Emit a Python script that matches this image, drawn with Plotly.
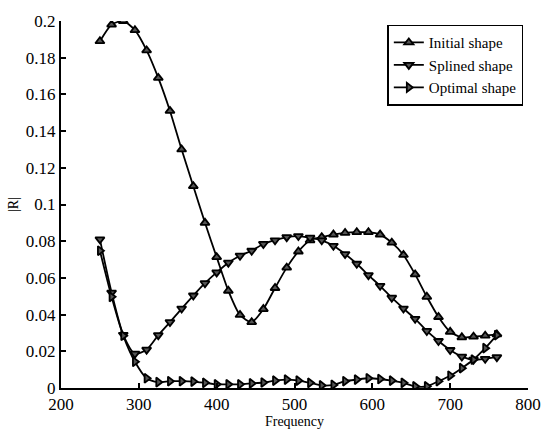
import plotly.graph_objects as go

freq = [250 + 15 * i for i in range(35)]

initial = [0.189, 0.198, 0.200, 0.195, 0.184, 0.169, 0.151, 0.130, 0.110, 0.090,
           0.0713, 0.053, 0.0398, 0.0359, 0.043, 0.0545, 0.0656, 0.0744, 0.0805, 0.0822,
           0.0836, 0.0845, 0.0849, 0.0849, 0.0836, 0.0792, 0.0725, 0.0619, 0.0497, 0.0387,
           0.0306, 0.0276, 0.028, 0.0285, 0.0292]

splined = [0.081, 0.052, 0.029, 0.0187, 0.0209, 0.0288, 0.0359, 0.0433, 0.0504, 0.0571,
           0.063, 0.0683, 0.0721, 0.0748, 0.0785, 0.0805, 0.0822, 0.0828, 0.0819, 0.0805,
           0.0775, 0.073, 0.0677, 0.0615, 0.0557, 0.0492, 0.0433, 0.0377, 0.0311, 0.0256,
           0.0207, 0.0171, 0.0154, 0.0159, 0.0168]

optimal = [0.0748, 0.0497, 0.0285, 0.0143, 0.0053, 0.0032, 0.0037, 0.0037, 0.0035, 0.0028,
           0.002, 0.002, 0.002, 0.0025, 0.003, 0.004, 0.0046, 0.004, 0.0028, 0.0014,
           0.0017, 0.0037, 0.0046, 0.0053, 0.0049, 0.004, 0.0028, 0.0009, 0.0009, 0.0037,
           0.0067, 0.0108, 0.0155, 0.0217, 0.0288]

series_names = ["Initial shape", "Splined shape", "Optimal shape"]
series_symbols = ["triangle-up", "triangle-down", "triangle-right"]

x_ticks = [200, 300, 400, 500, 600, 700, 800]
y_ticks = [0, 0.02, 0.04, 0.06, 0.08, 0.1, 0.12, 0.14, 0.16, 0.18, 0.2]
y_ticktext = ["0", "0.02", "0.04", "0.06", "0.08", "0.1", "0.12", "0.14", "0.16", "0.18", "0.2"]

fig = go.Figure()
for name, ys, sym in zip(series_names, [initial, splined, optimal], series_symbols):
    fig.add_trace(go.Scatter(
        x=freq, y=ys, name=name, mode="lines+markers",
        line=dict(color="black", width=1.8, shape="spline", smoothing=0.7),
        marker=dict(symbol=sym, size=8, color="#555555", line=dict(color="black", width=1.8)),
    ))

font = "Times New Roman, Liberation Serif, DejaVu Serif, serif"
fig.update_layout(
    width=553, height=436,
    margin=dict(l=61, r=14, t=14, b=45),
    paper_bgcolor="white", plot_bgcolor="white",
    font=dict(family=font, size=15, color="black"),
    showlegend=True,
    legend=dict(
        x=0.99, y=0.99, xanchor="right", yanchor="top",
        bordercolor="black", borderwidth=1.5, bgcolor="white",
        font=dict(family=font, size=15, color="black"),
        tracegroupgap=0, itemwidth=30,
    ),
    xaxis=dict(
        range=[200, 800], tickvals=x_ticks, ticks="inside", ticklen=5,
        tickcolor="black", tickwidth=1.5,
        showline=True, linecolor="black", linewidth=2, mirror=False,
        showgrid=False, zeroline=False,
        title=dict(text="Frequency", standoff=0, font=dict(family=font, size=14)),
        tickfont=dict(family=font, size=17),
    ),
    yaxis=dict(
        range=[0, 0.2], tickvals=y_ticks, ticktext=y_ticktext, ticks="inside", ticklen=5,
        tickcolor="black", tickwidth=1.5,
        showline=True, linecolor="black", linewidth=2, mirror=False,
        showgrid=False, zeroline=False,
        title=dict(text="|R|", standoff=4, font=dict(family=font, size=14)),
        tickfont=dict(family=font, size=17),
    ),
)

fig.write_html("out.html")
